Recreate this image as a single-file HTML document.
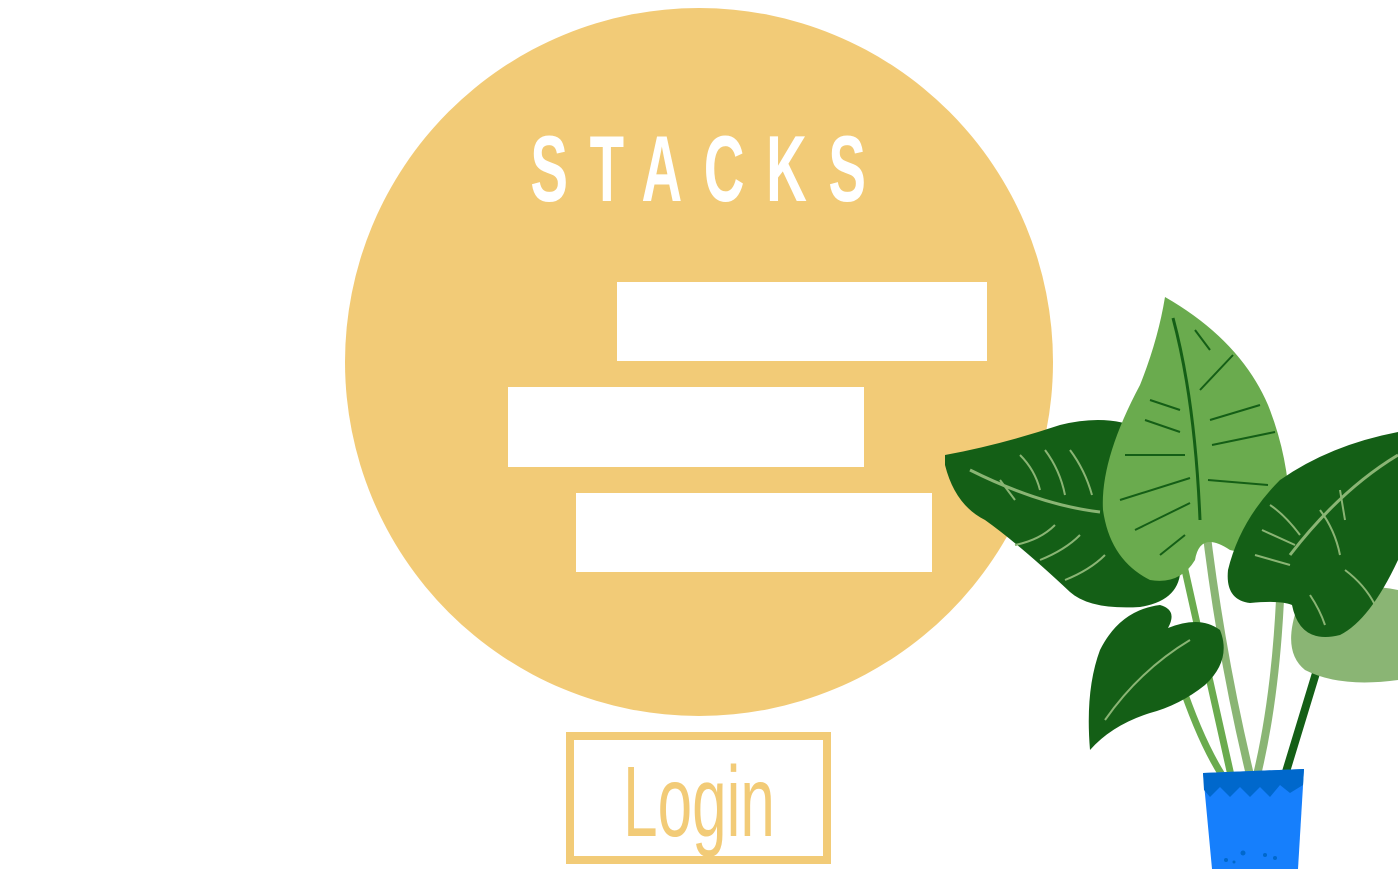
<!DOCTYPE html>
<html><head><meta charset="utf-8"><style>
html,body{margin:0;padding:0;background:#fff;width:1398px;height:869px;overflow:hidden}
</style></head><body>
<svg width="1398" height="869" viewBox="0 0 1398 869" xmlns="http://www.w3.org/2000/svg">
<circle cx="699" cy="362" r="354" fill="#f2cb77"/>
<text x="0" y="0" transform="translate(709,201) scale(0.6,1)" text-anchor="middle" font-family="Liberation Sans, sans-serif" font-weight="bold" font-size="94" fill="#fff" letter-spacing="36">STACKS</text>
<rect x="617" y="282" width="370" height="79" fill="#fff"/>
<rect x="508" y="387" width="356" height="80" fill="#fff"/>
<rect x="576" y="493" width="356" height="79" fill="#fff"/>
<rect x="570" y="736" width="257" height="124" fill="none" stroke="#f2cb77" stroke-width="8"/>
<text x="0" y="0" transform="translate(699,836) scale(0.62,1)" text-anchor="middle" font-family="Liberation Sans, sans-serif" font-size="100" fill="#f2cb77">Login</text>
<g fill="none" stroke-linecap="round">
<path d="M1185 570 L1232 780" stroke="#6aab4e" stroke-width="7"/>
<path d="M1205 520 Q1220 650 1250 775" stroke="#8ab574" stroke-width="8"/>
<path d="M1280 600 Q1275 700 1257 775" stroke="#8ab574" stroke-width="8"/>
<path d="M1320 660 L1285 775" stroke="#145f16" stroke-width="8"/>
<path d="M1180 680 Q1200 740 1222 775" stroke="#6aab4e" stroke-width="7"/>
</g>
<path d="M1300 600 Q1350 580 1398 590 L1398 680 Q1340 688 1305 670 Q1280 650 1300 600Z" fill="#8ab574"/>
<path d="M945 455 Q1000 445 1060 425 Q1120 410 1160 440 L1180 560 Q1185 600 1140 607 Q1090 610 1070 592 Q1020 545 985 520 Q955 505 945 465Z" fill="#145f16"/>
<path d="M970 470 Q1040 505 1100 512" stroke="#8ab574" stroke-width="3" fill="none"/>
<g stroke="#8ab574" stroke-width="2" fill="none">
<path d="M1000 480 L1015 500"/><path d="M1020 455 Q1035 470 1040 490"/><path d="M1045 450 Q1060 470 1065 495"/><path d="M1070 450 Q1085 470 1092 495"/><path d="M1015 545 Q1040 540 1055 525"/><path d="M1040 560 Q1065 550 1080 535"/><path d="M1065 580 Q1090 570 1105 555"/>
</g>
<path d="M1165 297 Q1240 340 1268 405 Q1290 460 1290 520 Q1270 560 1230 550 Q1200 530 1195 560 Q1180 585 1150 580 Q1110 560 1103 510 Q1100 460 1140 385 Q1158 340 1165 297Z" fill="#6aab4e"/>
<path d="M1173 318 Q1195 400 1200 520" stroke="#145f16" stroke-width="3" fill="none"/>
<g stroke="#145f16" stroke-width="2" fill="none">
<path d="M1125 455 L1185 455"/><path d="M1120 500 L1190 478"/><path d="M1135 530 L1190 503"/><path d="M1212 445 L1275 432"/><path d="M1210 420 L1260 405"/><path d="M1200 390 L1233 355"/><path d="M1150 400 L1180 410"/><path d="M1145 420 L1180 432"/><path d="M1208 480 L1268 485"/><path d="M1195 330 L1210 350"/><path d="M1160 555 L1185 535"/>
</g>
<path d="M1398 432 L1398 560 Q1370 620 1340 635 Q1300 645 1292 605 Q1280 600 1250 603 Q1225 600 1228 570 Q1240 520 1280 480 Q1330 445 1398 432Z" fill="#145f16"/>
<path d="M1290 555 Q1340 490 1398 455" stroke="#8ab574" stroke-width="3" fill="none"/>
<g stroke="#8ab574" stroke-width="2" fill="none">
<path d="M1255 555 L1290 565"/><path d="M1262 530 L1295 545"/><path d="M1270 505 Q1285 515 1300 535"/><path d="M1320 510 Q1335 530 1340 555"/><path d="M1340 490 L1345 520"/><path d="M1310 595 Q1320 610 1325 625"/><path d="M1345 570 Q1365 585 1375 605"/>
</g>
<path d="M1090 750 Q1085 690 1100 650 Q1120 610 1160 605 Q1178 610 1168 628 Q1200 615 1220 630 Q1232 660 1205 685 Q1180 705 1150 713 Q1112 725 1090 750Z" fill="#145f16"/>
<path d="M1105 720 Q1140 670 1190 640" stroke="#8ab574" stroke-width="2" fill="none"/>
<path d="M1203 773 L1304 769 L1298 869 L1212 869Z" fill="#167ffc"/>
<path d="M1203 773 L1304 769 L1303 785 L1290 793 L1280 785 L1270 797 L1260 787 L1250 797 L1240 787 L1230 797 L1220 787 L1210 797 L1204 790Z" fill="#0068cc"/>
<g fill="#0068cc"><circle cx="1226" cy="860" r="2"/><circle cx="1243" cy="853" r="2.5"/><circle cx="1265" cy="855" r="2"/><circle cx="1275" cy="858" r="2"/><circle cx="1234" cy="862" r="1.5"/></g>
</svg>
</body></html>
